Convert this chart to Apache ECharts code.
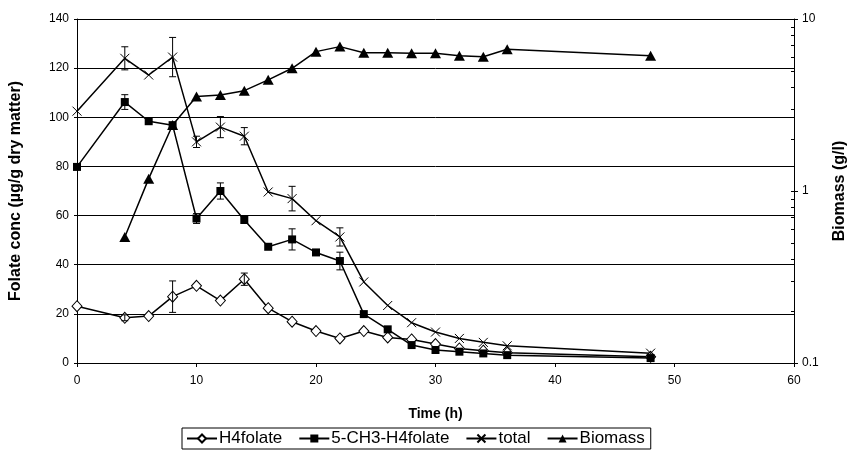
<!DOCTYPE html>
<html>
<head>
<meta charset="utf-8">
<script src="https://cdn.jsdelivr.net/npm/echarts@6/dist/echarts.min.js"></script>
<style>html,body{margin:0;padding:0;background:#fff}#c{width:856px;height:469px}</style>
</head>
<body>
<div id="c"></div>
<script>
const times = [0, 4, 6, 8, 10, 12, 14, 16, 18, 20, 22, 24, 26, 28, 30, 32, 34, 36, 48];
const h4folate = [23.1, 18.4, 19.1, 27.0, 31.4, 25.4, 34.1, 22.3, 16.8, 13.0, 10.0, 13.0, 10.4, 9.6, 7.7, 5.9, 5.0, 4.2, 2.5];
const methyl = [79.8, 106.2, 98.4, 96.8, 58.8, 70.0, 58.2, 47.3, 50.3, 45.0, 41.5, 19.9, 13.7, 7.3, 5.3, 4.6, 3.9, 3.2, 2.0];
const total = [102.5, 124.0, 117.2, 124.5, 90.0, 96.0, 92.3, 69.6, 66.9, 57.9, 51.3, 33.0, 23.4, 16.4, 12.6, 10.0, 8.4, 7.0, 4.0];
const h4Err = [0, 1.2, 0, 6.4, 0, 0, 2.5, 0, 0, 0, 0, 0, 0, 0, 0, 0, 0, 0, 0];
const methylErr = [0, 3.0, 0, 0, 2.0, 3.3, 0, 0, 4.3, 0, 3.6, 0, 0, 0, 0, 0, 0, 0, 0];
const totalErr = [0, 4.7, 0, 8.0, 2.3, 4.3, 3.5, 0, 5.0, 0, 3.7, 0, 0, 0, 0, 0, 0, 0, 0];
const biomassTimes = [4, 6, 8, 10, 12, 14, 16, 18, 20, 22, 24, 26, 28, 30, 32, 34, 36, 48];
const biomass = [0.54, 1.18, 2.42, 3.54, 3.62, 3.83, 4.43, 5.17, 6.46, 6.91, 6.37, 6.37, 6.32, 6.32, 6.12, 6.04, 6.67, 6.12];
const xTicks = [0, 10, 20, 30, 40, 50, 60];
const leftTicks = [0, 20, 40, 60, 80, 100, 120, 140];
const rightTicks = [0.1, 1, 10];
const seriesNames = ['H4folate', '5-CH3-H4folate', 'total', 'Biomass'];

const pairs = (xs, ys) => xs.map((x, i) => [x, ys[i]]);
const errData = (ys, es) => times.map((t, i) => [t, ys[i], es[i]]).filter(d => d[2] > 0);

// minor tick positions on the log axis (log10 space)
const minorLog = [];
[0.1, 1].forEach(d => { for (let k = 1; k <= 10; k++) minorLog.push(Math.log10(d * k)); });

function errRender(params, api) {
  const x = api.value(0), y = api.value(1), e = api.value(2);
  const t = api.coord([x, y + e]);
  const b = api.coord([x, y - e]);
  const w = 3.5;
  const st = { stroke: '#000', lineWidth: 1 };
  return {
    type: 'group',
    children: [
      { type: 'line', shape: { x1: t[0], y1: t[1], x2: b[0], y2: b[1] }, style: st },
      { type: 'line', shape: { x1: t[0] - w, y1: t[1], x2: t[0] + w, y2: t[1] }, style: st },
      { type: 'line', shape: { x1: b[0] - w, y1: b[1], x2: b[0] + w, y2: b[1] }, style: st }
    ]
  };
}

const FONT = 'Liberation Sans, Arial, sans-serif';
const lineCommon = {
  type: 'line',
  xAxisIndex: 0,
  lineStyle: { color: '#000', width: 1.5 },
  emphasis: { disabled: true },
  animation: false
};
const xSym = 'path://M0,0L10,10M10,0L0,10';

const chart = echarts.init(document.getElementById('c'));
chart.setOption({
  animation: false,
  backgroundColor: '#fff',
  textStyle: { fontFamily: FONT },
  grid: { left: 77, right: 57, top: 19, bottom: 106 },
  legend: {
    data: seriesNames,
    left: 182,
    top: 428,
    orient: 'horizontal',
    borderColor: '#000',
    borderWidth: 1,
    borderRadius: 0,
    padding: [2, 6, 2, 4],
    itemGap: 16,
    itemWidth: 30,
    itemHeight: 10,
    textStyle: { fontFamily: FONT, fontSize: 17, color: '#000', padding: [0, 0, 0, -3] }
  },
  xAxis: [{
    type: 'value', min: 0, max: 60, interval: 10,
    name: 'Time (h)', nameLocation: 'middle', nameGap: 44,
    nameTextStyle: { fontFamily: FONT, fontSize: 14, fontWeight: 'bold', color: '#000' },
    axisLine: { show: true, lineStyle: { color: '#000', width: 1 } },
    axisTick: { show: true, inside: false, length: 4, lineStyle: { color: '#000' } },
    axisLabel: { fontFamily: FONT, fontSize: 12, color: '#000', margin: 12,
      formatter: v => xTicks.includes(v) ? String(v) : '' },
    splitLine: { show: false }
  }],
  yAxis: [{
    type: 'value', position: 'left', min: 0, max: 140, interval: 20,
    name: 'Folate conc (µg/g dry matter)', nameLocation: 'middle', nameGap: 53, nameRotate: 90,
    nameTextStyle: { fontFamily: FONT, fontSize: 16, fontWeight: 'bold', color: '#000' },
    axisLine: { show: true, lineStyle: { color: '#000', width: 1 } },
    axisTick: { show: true, inside: false, length: 3, lineStyle: { color: '#000' } },
    axisLabel: { fontFamily: FONT, fontSize: 12, color: '#000', margin: 8,
      formatter: v => leftTicks.includes(v) ? String(v) : '' },
    splitLine: { show: true, lineStyle: { color: '#000', width: 1 } }
  }, {
    type: 'log', logBase: 10, position: 'right', min: 0.1, max: 10,
    name: 'Biomass (g/l)', nameLocation: 'middle', nameGap: 38, nameRotate: 90,
    nameTextStyle: { fontFamily: FONT, fontSize: 16, fontWeight: 'bold', color: '#000' },
    axisLine: { show: true, lineStyle: { color: '#000', width: 1 } },
    axisTick: { show: true, inside: false, length: 4, lineStyle: { color: '#000' } },
    axisLabel: { fontFamily: FONT, fontSize: 12, color: '#000', margin: 8,
      formatter: v => { const r = rightTicks.find(t => Math.abs(t - v) < 1e-9); return r !== undefined ? String(r) : ''; } },
    splitLine: { show: false }
  }, {
    // inner tick marks of the left axis (cross ticks)
    type: 'value', position: 'left', min: 0, max: 140, interval: 20,
    axisLine: { show: false },
    axisTick: { show: true, inside: true, length: 3, lineStyle: { color: '#000' } },
    axisLabel: { show: false }, splitLine: { show: false }
  }, {
    // inner major + minor ticks of the log axis
    type: 'value', position: 'right', min: -1, max: 1,
    axisLine: { show: false },
    axisTick: { show: true, inside: true, length: 3, customValues: minorLog, lineStyle: { color: '#000' } },
    axisLabel: { show: false }, splitLine: { show: false }
  }],
  series: [
    Object.assign({}, lineCommon, {
      name: 'H4folate', yAxisIndex: 0, data: pairs(times, h4folate),
      symbol: 'diamond', symbolSize: [10, 11],
      itemStyle: { color: '#fff', borderColor: '#000', borderWidth: 1 },
      z: 3
    }),
    Object.assign({}, lineCommon, {
      name: '5-CH3-H4folate', yAxisIndex: 0, data: pairs(times, methyl),
      symbol: 'rect', symbolSize: 8,
      itemStyle: { color: '#000', borderColor: '#000', borderWidth: 0 },
      z: 3
    }),
    Object.assign({}, lineCommon, {
      name: 'total', yAxisIndex: 0, data: pairs(times, total),
      symbol: xSym, symbolSize: 9,
      itemStyle: { color: '#000', borderColor: '#000', borderWidth: 1 },
      z: 3
    }),
    Object.assign({}, lineCommon, {
      name: 'Biomass', yAxisIndex: 1, data: pairs(biomassTimes, biomass),
      symbol: 'triangle', symbolSize: [11, 10],
      itemStyle: { color: '#000', borderColor: '#000', borderWidth: 0 },
      z: 3
    }),
    { type: 'custom', name: 'errH4', yAxisIndex: 0, renderItem: errRender,
      data: errData(h4folate, h4Err), encode: { x: 0, y: 1 }, z: 4, silent: true, animation: false },
    { type: 'custom', name: 'errMethyl', yAxisIndex: 0, renderItem: errRender,
      data: errData(methyl, methylErr), encode: { x: 0, y: 1 }, z: 4, silent: true, animation: false },
    { type: 'custom', name: 'errTotal', yAxisIndex: 0, renderItem: errRender,
      data: errData(total, totalErr), encode: { x: 0, y: 1 }, z: 4, silent: true, animation: false }
  ]
});
</script>
</body>
</html>
